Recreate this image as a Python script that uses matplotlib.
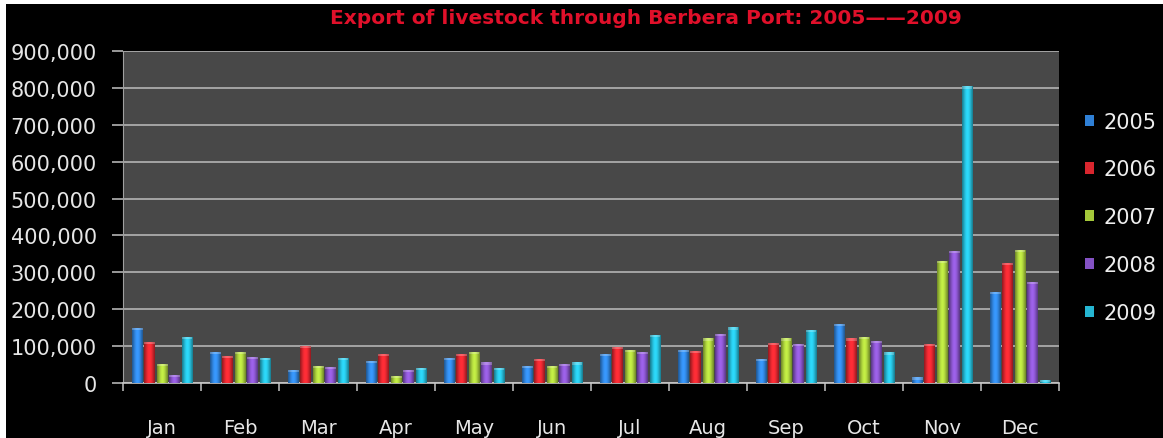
import numpy as np
from matplotlib import pyplot as plt
from matplotlib.colors import to_rgb
from matplotlib.patches import Rectangle
from matplotlib.ticker import FuncFormatter

months = ["Jan", "Feb", "Mar", "Apr", "May", "Jun",
          "Jul", "Aug", "Sep", "Oct", "Nov", "Dec"]
years = ["2005", "2006", "2007", "2008", "2009"]

# head of livestock exported per month
exp_2005 = [150000, 85000, 36000, 60000, 67000, 47000, 79000, 90000, 65000, 160000, 15000, 246000]
exp_2006 = [112000, 74000, 101000, 79000, 79000, 65000, 97000, 88000, 108000, 121000, 106000, 325000]
exp_2007 = [51000, 85000, 47000, 20000, 85000, 47000, 90000, 121000, 121000, 124000, 331000, 361000]
exp_2008 = [22000, 70000, 43000, 35000, 56000, 51000, 85000, 133000, 105000, 115000, 359000, 275000]
exp_2009 = [124000, 67000, 67000, 40000, 40000, 56000, 130000, 151000, 144000, 83000, 804000, 8000]

series = [exp_2005, exp_2006, exp_2007, exp_2008, exp_2009]
colors = ["#2f80d6", "#d9262e", "#a4c83a", "#8452c4", "#25b6d2"]

str_title = "Export of livestock through Berbera Port: 2005\u2014\u20142009"

plt.rcParams["font.family"] = "DejaVu Sans"

fig = plt.figure(figsize=(11.63, 4.39), dpi=100, facecolor="black")
ax = fig.add_axes([0.1058, 0.1253, 0.8048, 0.7562])
ax.set_facecolor("#484848")


def shaded(color, n=32):
    # horizontal shading so each bar looks like a cylinder
    r, g, b = to_rgb(color)
    t = np.linspace(0, 1, n)
    k = 0.55 + 0.65 * np.sin(np.pi * (0.15 + 0.7 * t)) ** 2
    rgb = np.stack([np.clip(r * k, 0, 1), np.clip(g * k, 0, 1), np.clip(b * k, 0, 1)], axis=-1)
    return rgb[np.newaxis, :, :]


x = np.arange(len(months))
int_nser = len(series)
flt_step = 0.16
flt_width = 0.14
for i, (vals, col) in enumerate(zip(series, colors)):
    pos = x + (i - (int_nser - 1) / 2) * flt_step
    bars = ax.bar(pos, vals, width=flt_width, color=col, zorder=2, label=years[i])
    for b in bars:
        x0 = b.get_x()
        h = b.get_height()
        im = ax.imshow(shaded(col), extent=[x0, x0 + flt_width, 0, h],
                       aspect="auto", zorder=3, interpolation="bilinear")
        im.set_clip_path(b)
        # lighter cap on the top of each bar
        ax.add_patch(Rectangle((x0, h - 6000), flt_width, 6000,
                               facecolor="white", alpha=0.25, lw=0, zorder=4))

ax.set_xlim(-0.5, len(months) - 0.5)
ax.set_ylim(0, 900000)
ax.set_yticks(np.arange(0, 900001, 100000))
ax.yaxis.set_major_formatter(FuncFormatter(lambda v, p: "{:,.0f}".format(v)))
ax.grid(axis="y", color="#b4b4b4", linewidth=1.2, zorder=1)
ax.set_axisbelow(True)

# category separators on the x axis, labels centred between them
ax.set_xticks(np.arange(-0.5, len(months), 1.0))
ax.set_xticklabels([])
ax.set_xticks(x, minor=True)
ax.set_xticklabels(months, minor=True)
ax.tick_params(axis="x", which="major", length=6, color="#b4b4b4", width=1.2)
ax.tick_params(axis="x", which="minor", length=0, pad=25, labelsize=14, labelcolor="#e6e6e6")
ax.tick_params(axis="y", length=8, color="#b4b4b4", width=1.2, pad=11,
               labelsize=15, labelcolor="#e6e6e6")

for side in ["top", "right"]:
    ax.spines[side].set_visible(False)
ax.spines["left"].set_color("#a0a0a0")
ax.spines["bottom"].set_color("#c8c8c8")
ax.spines["bottom"].set_linewidth(1.2)

fig.text(0.555, 0.958, str_title, color="#e0102a", fontsize=14.5, fontweight="bold",
         ha="center", va="center")

leg = fig.legend(loc="center left", bbox_to_anchor=(0.933, 0.503), frameon=False,
                 fontsize=15, labelcolor="#eeeeee", handlelength=0.45, handleheight=0.45,
                 handletextpad=0.45, labelspacing=1.33, borderpad=0, borderaxespad=0)

# thin white border along the top and left of the picture
fig.add_artist(Rectangle((0, 0.988), 1, 0.012, transform=fig.transFigure,
                         facecolor="white", lw=0))
fig.add_artist(Rectangle((0, 0), 0.005, 1, transform=fig.transFigure,
                         facecolor="white", lw=0))

fig.savefig("out.png", dpi=100, facecolor="black")
